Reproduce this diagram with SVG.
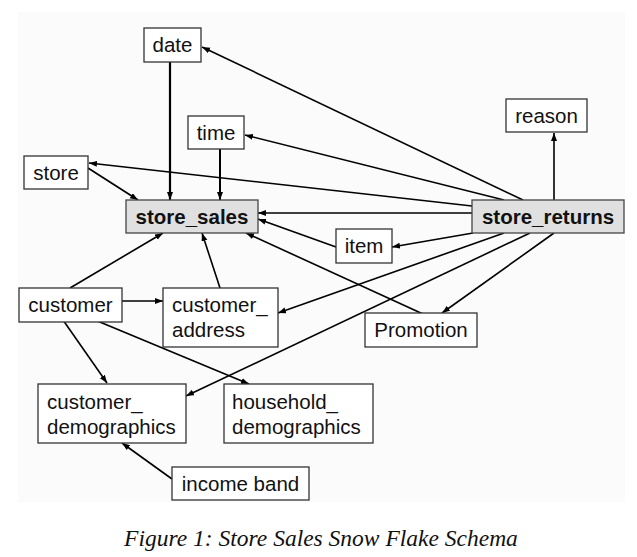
<svg xmlns="http://www.w3.org/2000/svg" width="637" height="557" viewBox="0 0 637 557">
<defs>
<marker id="arr" markerUnits="userSpaceOnUse" markerWidth="9" markerHeight="7" refX="8" refY="3" orient="auto">
<path d="M0,0 L8,3 L0,6 z" fill="#000"/>
</marker>
<style>
.box{fill:#fff;stroke:#333;stroke-width:1.3}
.fact{fill:#e0e0e0;stroke:#444;stroke-width:1.3}
.t{font-family:"Liberation Sans",Arial,sans-serif;font-size:20.5px;fill:#111}
.c{text-anchor:middle}
.b{font-weight:bold}
.ln{stroke:#000;stroke-width:1.6;fill:none;marker-end:url(#arr)}
.cap{font-family:"Liberation Serif","Times New Roman",serif;font-style:italic;font-size:23.5px;fill:#111;text-anchor:middle}
</style>
</defs>
<rect x="0" y="0" width="637" height="557" fill="#fff"/>
<rect x="18" y="12" width="607" height="490" fill="#fbfbfb"/>
<g id="connectors">
<path class="ln" d="M170,62 V200" style="stroke-width:2.2"/>
<path class="ln" d="M220,149 V200" style="stroke-width:2"/>
<path class="ln" d="M88,168 L138,200"/>
<path class="ln" d="M523,200 L202,47"/>
<path class="ln" d="M504,200 L245,135"/>
<path class="ln" d="M472,206 L89,163"/>
<path class="ln" d="M472,213 L258,213"/>
<path class="ln" d="M473,233 L392,247"/>
<path class="ln" d="M336,247 L258,219"/>
<path class="ln" d="M423,314 L246,233"/>
<path class="ln" d="M554,233 L442,313"/>
<path class="ln" d="M504,233 L278,313"/>
<path class="ln" d="M530,233 L186,396"/>
<path class="ln" d="M70,288 L163,233"/>
<path class="ln" d="M220,288 L202,233"/>
<path class="ln" d="M122,301 L163,301"/>
<path class="ln" d="M63,320 L107,383"/>
<path class="ln" d="M95,320 L249,384"/>
<path class="ln" d="M172,479 L122,443"/>
<path class="ln" d="M554,200 V133"/>
</g>
<g id="date"><rect class="box" x="144" y="28" width="57" height="34"/><text class="t c" x="172.5" y="52">date</text></g>
<g id="time"><rect class="box" x="188" y="116" width="56" height="33"/><text class="t c" x="216" y="140">time</text></g>
<g id="store"><rect class="box" x="24" y="156" width="64" height="33"/><text class="t c" x="56" y="180">store</text></g>
<g id="store_sales"><rect class="fact" x="126" y="200" width="132" height="33"/><text class="t c b" x="192" y="224">store_sales</text></g>
<g id="store_returns"><rect class="fact" x="472" y="200" width="152" height="33"/><text class="t c b" x="548" y="224">store_returns</text></g>
<g id="reason"><rect class="box" x="506" y="99" width="81" height="33"/><text class="t c" x="546.5" y="123">reason</text></g>
<g id="item"><rect class="box" x="336" y="229" width="56" height="34"/><text class="t c" x="364" y="253">item</text></g>
<g id="customer"><rect class="box" x="19" y="288" width="103" height="34"/><text class="t c" x="70.5" y="312">customer</text></g>
<g id="customer_address"><rect class="box" x="163" y="288" width="115" height="59"/><text class="t" x="172" y="312">customer_</text><text class="t" x="172" y="337">address</text></g>
<g id="promotion"><rect class="box" x="365" y="313" width="112" height="34"/><text class="t c" x="421" y="337">Promotion</text></g>
<g id="customer_demographics"><rect class="box" x="38" y="384" width="148" height="59"/><text class="t" x="47" y="409">customer_</text><text class="t" x="47" y="434">demographics</text></g>
<g id="household_demographics"><rect class="box" x="224" y="384" width="149" height="59"/><text class="t" x="232" y="409">household_</text><text class="t" x="232" y="434">demographics</text></g>
<g id="income_band"><rect class="box" x="172" y="467" width="137" height="33"/><text class="t c" x="240.5" y="491">income band</text></g>
<text class="cap" x="321" y="546">Figure 1: Store Sales Snow Flake Schema</text>
</svg>
